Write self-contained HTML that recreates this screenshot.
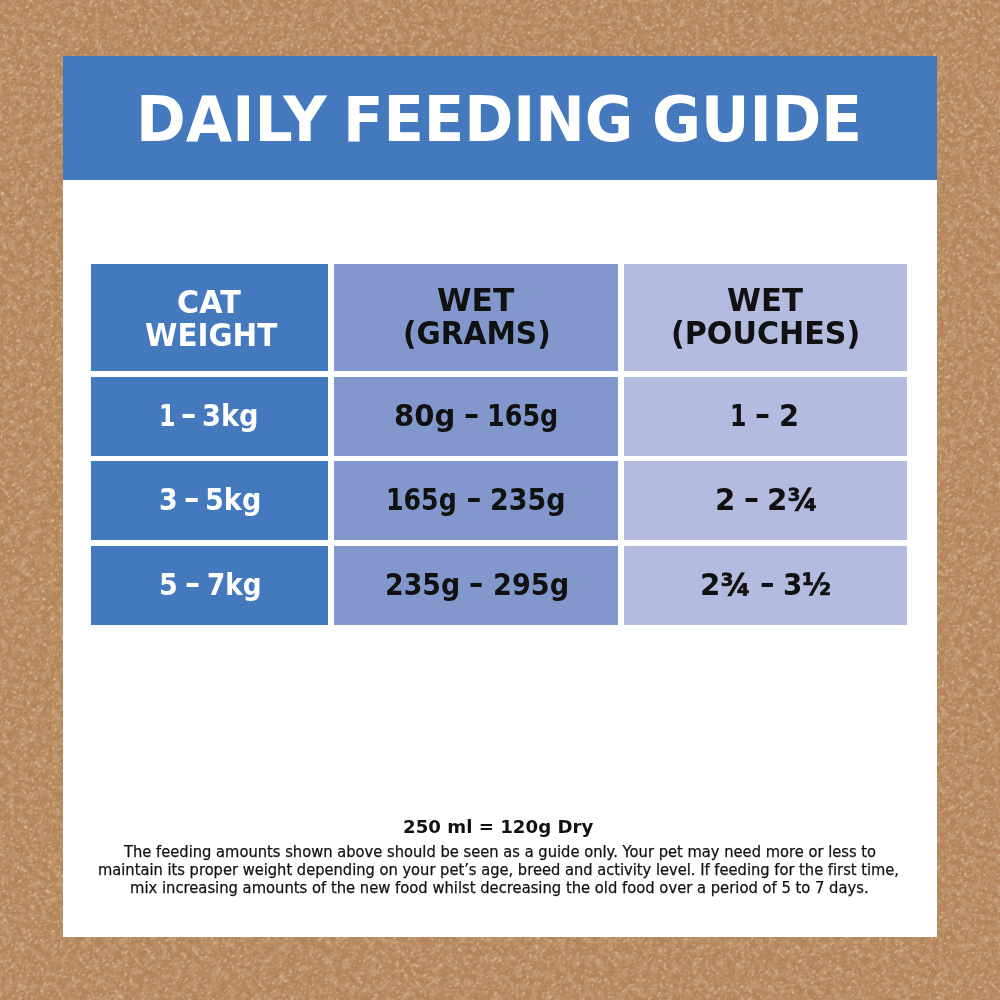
<!DOCTYPE html>
<html>
<head>
<meta charset="utf-8">
<style>
html,body{margin:0;padding:0;}
body{width:1000px;height:1000px;overflow:hidden;position:relative;background:#b3845a;font-family:"DejaVu Sans","Liberation Sans",sans-serif;}
.panel{position:absolute;left:63px;top:56px;width:874px;height:881px;background:#fff;}
.head{position:absolute;left:63px;top:56px;width:874px;height:124px;background:#4479be;}
.cell{position:absolute;}
.c1{left:91px;width:237px;background:#4479be;}
.c2{left:334px;width:284px;background:#8298cc;}
.c3{left:624px;width:283px;background:#b3bbe0;}
.r1{top:264px;height:107px;}
.r2{top:377px;height:79px;}
.r3{top:461px;height:79px;}
.r4{top:546px;height:79px;}
.t{position:absolute;white-space:nowrap;line-height:1;transform-origin:0 0;font-variant-ligatures:none;font-kerning:normal;}
.p{-webkit-text-stroke:0.25px #111;}
.fr{-webkit-text-stroke:0.7px #111;}
</style>
</head>
<body>
<svg width="1000" height="1000" style="position:absolute;left:0;top:0">
<filter id="n" x="0" y="0" width="100%" height="100%">
<feTurbulence type="fractalNoise" baseFrequency="0.16 0.13" numOctaves="3" seed="5" result="a"/>
<feColorMatrix in="a" type="matrix" values="0 0 0 0 0.80  0 0 0 0 0.62  0 0 0 0 0.46  0.8 0 0 0 -0.33" result="a2"/>
<feTurbulence type="fractalNoise" baseFrequency="0.28 0.4" numOctaves="2" seed="11" result="b"/>
<feColorMatrix in="b" type="matrix" values="0 0 0 0 0.83  0 0 0 0 0.67  0 0 0 0 0.51  2.6 0 0 0 -1.48" result="b2"/>
<feMerge result="m"><feMergeNode in="a2"/><feMergeNode in="b2"/></feMerge>
<feGaussianBlur in="m" stdDeviation="0.7"/>
</filter>
<g transform="rotate(-40 500 500)"><rect x="-250" y="-250" width="1500" height="1500" filter="url(#n)"/></g>
</svg>
<div class="panel"></div>
<div class="head"></div>
<div class="cell c1 r1"></div>
<div class="cell c2 r1"></div>
<div class="cell c3 r1"></div>
<div class="cell c1 r2"></div>
<div class="cell c2 r2"></div>
<div class="cell c3 r2"></div>
<div class="cell c1 r3"></div>
<div class="cell c2 r3"></div>
<div class="cell c3 r3"></div>
<div class="cell c1 r4"></div>
<div class="cell c2 r4"></div>
<div class="cell c3 r4"></div>
<div class="t" style="left:135.52px;top:89.20px;font-size:62.8px;font-weight:700;color:#fff;transform:scaleX(0.9549)">DAILY</div>
<div class="t" style="left:343.15px;top:89.20px;font-size:62.8px;font-weight:700;color:#fff;transform:scaleX(0.9419)">FEEDING</div>
<div class="t" style="left:651.65px;top:89.20px;font-size:62.8px;font-weight:700;color:#fff;transform:scaleX(0.9509)">GUIDE</div>
<div class="t" style="left:176.85px;top:287.25px;font-size:31.6px;font-weight:700;color:#fff;transform:scaleX(0.9545)">CAT</div>
<div class="t" style="left:145.07px;top:319.85px;font-size:31.6px;font-weight:700;color:#fff;transform:scaleX(0.9305)">WEIGHT</div>
<div class="t" style="left:436.91px;top:284.50px;font-size:31.6px;font-weight:700;color:#111;transform:scaleX(0.9909)">WET</div>
<div class="t" style="left:402.73px;top:317.50px;font-size:31.6px;font-weight:700;color:#111;transform:scaleX(0.9359)">(GRAMS)</div>
<div class="t" style="left:727.03px;top:284.50px;font-size:31.6px;font-weight:700;color:#111;transform:scaleX(0.9740)">WET</div>
<div class="t" style="left:671.09px;top:317.50px;font-size:31.6px;font-weight:700;color:#111;transform:scaleX(0.9536)">(POUCHES)</div>
<div class="t" style="left:159.45px;top:402.10px;font-size:29.6px;font-weight:700;color:#fff;transform:scaleX(0.8000)">1</div>
<div class="t" style="left:181.47px;top:399.30px;font-size:29.6px;font-weight:700;color:#fff;transform:scale(1.0308,1.1000)">–</div>
<div class="t" style="left:202.46px;top:402.10px;font-size:29.6px;font-weight:700;color:#fff;transform:scaleX(0.9211)">3kg</div>
<div class="t" style="left:393.93px;top:401.60px;font-size:29.6px;font-weight:700;color:#111;transform:scaleX(0.9845)">80g</div>
<div class="t" style="left:463.68px;top:398.50px;font-size:29.6px;font-weight:700;color:#111;transform:scale(1.0231,1.1000)">–</div>
<div class="t" style="left:486.82px;top:401.60px;font-size:29.6px;font-weight:700;color:#111;transform:scaleX(0.8590)">165g</div>
<div class="t" style="left:730.20px;top:402.00px;font-size:29.6px;font-weight:700;color:#111;transform:scaleX(0.8000)">1</div>
<div class="t" style="left:755.18px;top:399.10px;font-size:29.6px;font-weight:700;color:#111;transform:scale(1.0154,1.1000)">–</div>
<div class="t" style="left:778.65px;top:402.00px;font-size:29.6px;font-weight:700;color:#111;transform:scaleX(0.9750)">2</div>
<div class="t" style="left:158.69px;top:486.20px;font-size:29.6px;font-weight:700;color:#fff;transform:scaleX(0.9059)">3</div>
<div class="t" style="left:184.26px;top:483.10px;font-size:29.6px;font-weight:700;color:#fff;transform:scale(1.0385,1.1000)">–</div>
<div class="t" style="left:205.47px;top:486.20px;font-size:29.6px;font-weight:700;color:#fff;transform:scaleX(0.9158)">5kg</div>
<div class="t" style="left:385.94px;top:486.45px;font-size:29.6px;font-weight:700;color:#111;transform:scaleX(0.8526)">165g</div>
<div class="t" style="left:466.50px;top:483.20px;font-size:29.6px;font-weight:700;color:#111;transform:scale(1.0000,1.1000)">–</div>
<div class="t" style="left:490.18px;top:486.45px;font-size:29.6px;font-weight:700;color:#111;transform:scaleX(0.9114)">235g</div>
<div class="t" style="left:715.02px;top:486.35px;font-size:29.6px;font-weight:700;color:#111;transform:scaleX(0.9875)">2</div>
<div class="t" style="left:743.58px;top:483.40px;font-size:29.6px;font-weight:700;color:#111;transform:scale(1.0154,1.1000)">–</div>
<div class="t" style="left:766.62px;top:486.35px;font-size:29.6px;font-weight:700;color:#111;transform:scaleX(0.9915)">2<span class="fr">¾</span></div>
<div class="t" style="left:159.18px;top:571.10px;font-size:29.6px;font-weight:700;color:#fff;transform:scaleX(0.9118)">5</div>
<div class="t" style="left:185.38px;top:567.90px;font-size:29.6px;font-weight:700;color:#fff;transform:scale(1.0154,1.1000)">–</div>
<div class="t" style="left:207.12px;top:571.10px;font-size:29.6px;font-weight:700;color:#fff;transform:scaleX(0.8877)">7kg</div>
<div class="t" style="left:384.69px;top:571.00px;font-size:29.6px;font-weight:700;color:#111;transform:scaleX(0.9051)">235g</div>
<div class="t" style="left:469.04px;top:567.90px;font-size:29.6px;font-weight:700;color:#111;transform:scale(0.9615,1.1000)">–</div>
<div class="t" style="left:492.66px;top:571.00px;font-size:29.6px;font-weight:700;color:#111;transform:scaleX(0.9177)">295g</div>
<div class="t" style="left:700.02px;top:570.85px;font-size:29.6px;font-weight:700;color:#111;transform:scaleX(0.9894)">2<span class="fr">¾</span></div>
<div class="t" style="left:759.52px;top:567.90px;font-size:29.6px;font-weight:700;color:#111;transform:scale(0.9769,1.1000)">–</div>
<div class="t" style="left:782.62px;top:570.85px;font-size:29.6px;font-weight:700;color:#111;transform:scaleX(0.9375)">3<span class="fr">½</span></div>
<div class="t" style="left:403.36px;top:819.30px;font-size:17.4px;font-weight:700;color:#111;transform:scaleX(1.0442)">250 ml = 120g Dry</div>
<div class="t p" style="left:123.60px;top:845.00px;font-size:15.1px;font-weight:400;color:#111;transform:scaleX(0.9748)">The feeding amounts shown above should be seen as a guide only. Your pet may need more or less to</div>
<div class="t p" style="left:98.43px;top:863.40px;font-size:15.1px;font-weight:400;color:#111;transform:scaleX(0.9724)">maintain its proper weight depending on your pet’s age, breed and activity level. If feeding for the first time,</div>
<div class="t p" style="left:130.02px;top:881.20px;font-size:15.1px;font-weight:400;color:#111;transform:scaleX(0.9784)">mix increasing amounts of the new food whilst decreasing the old food over a period of 5 to 7 days.</div>
</body>
</html>
